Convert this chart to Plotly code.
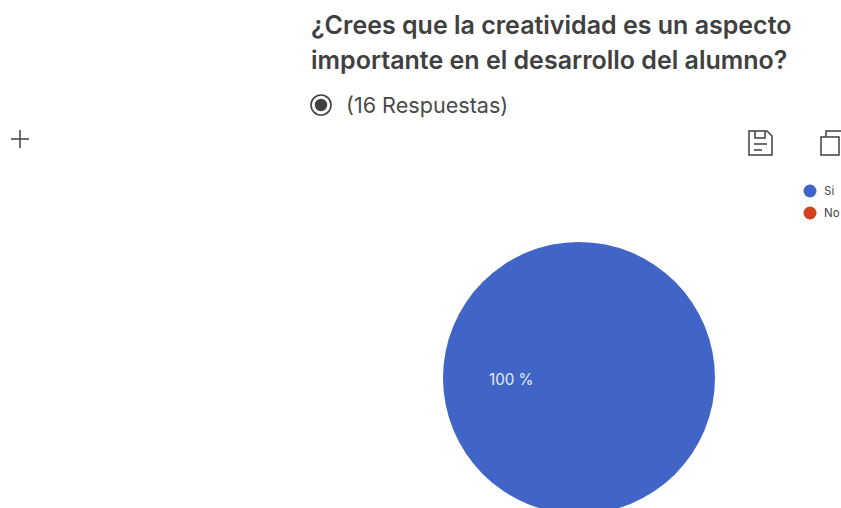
import plotly.graph_objects as go

categories = ["Si", "No"]
values = [16, 0]
colors = ["#4065C7", "#D1411F"]
title_lines = ["¿Crees que la creatividad es un aspecto", "importante en el desarrollo del alumno?"]
subtitle = "(16 Respuestas)"
pct_label = "100 %"

W, H = 841, 640
FONT = "Inter, Liberation Sans, sans-serif"
INK = "#404040"

def px(x):
    return x / W

def py(y):
    return 1 - y / H

def path(d):
    return dict(type="path", xref="paper", yref="paper", path=d, line=dict(color=INK, width=1.5), layer="above")

def P(*pts, close=False):
    s = "M" + " L".join(f"{px(a):.5f},{py(b):.5f}" for a, b in pts)
    return s + (" Z" if close else "")

def circle(cx, cy, r, fill=None, line=None, lw=0):
    return dict(type="circle", xref="paper", yref="paper",
                x0=px(cx - r), x1=px(cx + r), y0=py(cy + r), y1=py(cy - r),
                fillcolor=fill or "rgba(0,0,0,0)",
                line=dict(color=line or "rgba(0,0,0,0)", width=lw), layer="above")

fig = go.Figure(go.Pie(
    labels=categories, values=values, sort=False, direction="clockwise",
    marker=dict(colors=colors), textinfo="none", hoverinfo="label+percent",
    showlegend=False,
    domain=dict(x=[px(443), px(715)], y=[py(514), py(242)]),
))

ann = []
def text(x, y, s, size, color=INK, weight=400, anchor="left"):
    ann.append(dict(xref="paper", yref="paper", x=px(x), y=py(y), text=s,
                    showarrow=False, xanchor=anchor, yanchor="middle",
                    font=dict(family=FONT, size=size, color=color, weight=weight)))

text(309, 25, title_lines[0], 25, weight=600)
text(309, 60, title_lines[1], 25, weight=600)
text(344, 104.5, subtitle, 21.6, color="#4a4a4a")
text(487, 379, pct_label, 15.2, color="#E6ECF8")
for i, c in enumerate(categories):
    text(822, 191 + 22 * i, c, 11.5, color="#444444")

shapes = [
    circle(321, 105, 10, line=INK, lw=1.6),
    circle(321, 105, 6.2, fill=INK),
    path(P((20, 130), (20, 148))),
    path(P((11, 139), (29, 139))),
    path(P((749, 131), (767, 131), (772, 136), (772, 155), (749, 155), close=True)),
    path(P((755, 131), (755, 138), (765, 138), (765, 131))),
    path(P((754, 144), (767, 144))),
    path(P((754, 150), (762, 150))),
    path(P((821, 137), (839, 137), (839, 155), (821, 155), close=True)),
    path(P((826, 137), (826, 131), (841, 131))),
]
for i, c in enumerate(colors):
    shapes.append(circle(810, 191 + 22 * i, 6.5, fill=c))

fig.update_layout(width=W, height=H, margin=dict(l=0, r=0, t=0, b=0),
                  paper_bgcolor="white", annotations=ann, shapes=shapes)
fig.write_html("out.html", config=dict(displayModeBar=False),
               post_script="document.body.style.margin='0';document.body.style.overflow='hidden';document.documentElement.style.overflow='hidden';")
